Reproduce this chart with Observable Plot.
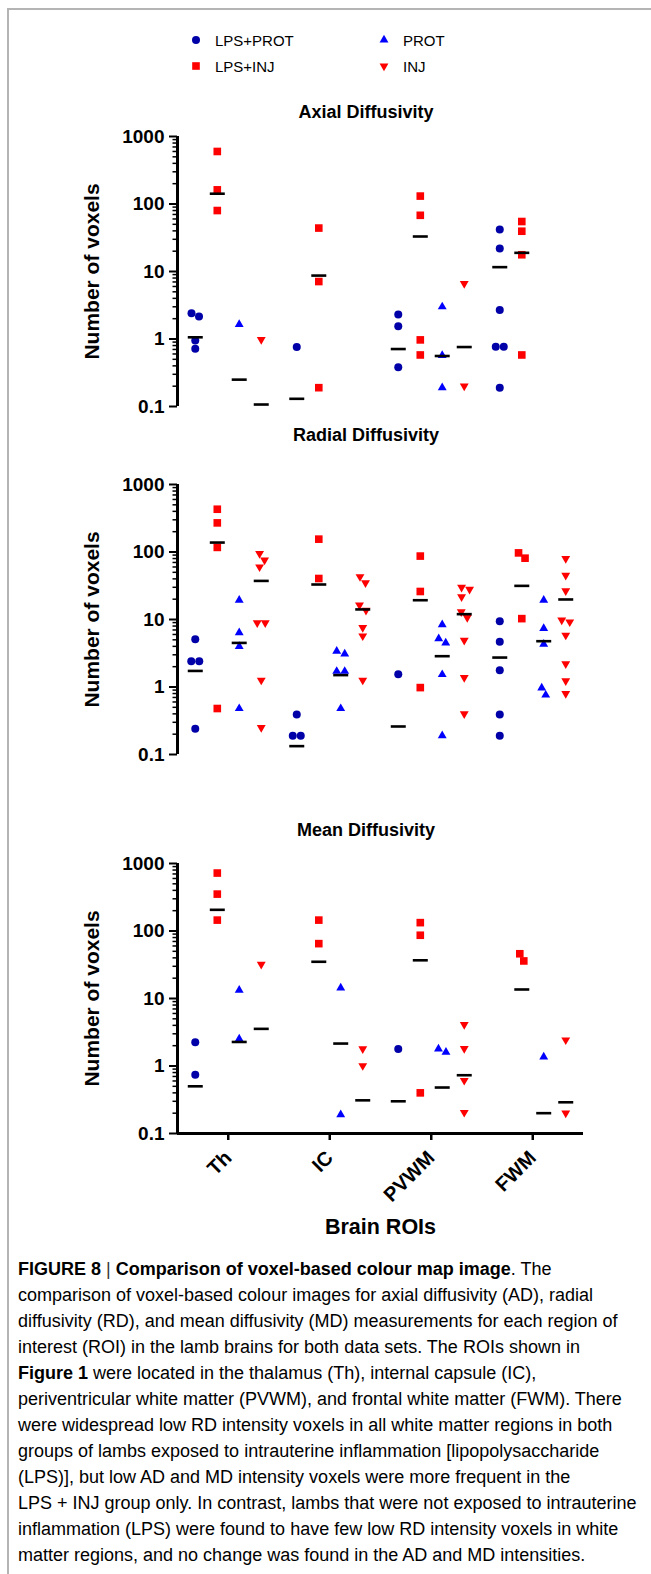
<!DOCTYPE html>
<html>
<head>
<meta charset="utf-8">
<script src="https://cdn.jsdelivr.net/npm/d3@7"></script>
<script src="https://cdn.jsdelivr.net/npm/@observablehq/plot@0.6"></script>
<style>
html { overflow: hidden; }
html, body { margin: 0; padding: 0; background: #fff; }
body { width: 651px; height: 1574px; position: relative; overflow: hidden;
  font-family: "Liberation Sans", Arial, Helvetica, sans-serif; color: #000; }
.fline { position: absolute; background: #b4b4b4; }
.panel { position: absolute; left: 0; }
.title { position: absolute; left: 166px; width: 400px; text-align: center; font-weight: bold;
  font-size: 18px; line-height: 20px; }
.leg { position: absolute; display: flex; align-items: center; font-size: 15px; height: 20px; white-space: nowrap; }
.leg svg { display: block; }
.leg span { margin-left: 12px; }
#caption { position: absolute; left: 18px; top: 1256px; font-size: 18px; line-height: 26px; white-space: nowrap; }
#caption .bar { font-weight: normal; color: #333; }
</style>
</head>
<body>
<div class="fline" style="left:7px;top:8px;width:644px;height:2px;"></div>
<div class="fline" style="left:7px;top:8px;width:2px;height:1566px;"></div>
<div id="legend"></div>
<div id="panels"></div>
<div id="caption"><b>FIGURE 8</b> <span class="bar">|</span> <b>Comparison of voxel-based colour map image</b>. The<br>comparison of voxel-based colour images for axial diffusivity (AD), radial<br>diffusivity (RD), and mean diffusivity (MD) measurements for each region of<br>interest (ROI) in the lamb brains for both data sets. The ROIs shown in<br><b>Figure 1</b> were located in the thalamus (Th), internal capsule (IC),<br>periventricular white matter (PVWM), and frontal white matter (FWM). There<br>were widespread low RD intensity voxels in all white matter regions in both<br>groups of lambs exposed to intrauterine inflammation [lipopolysaccharide<br>(LPS)], but low AD and MD intensity voxels were more frequent in the<br>LPS + INJ group only. In contrast, lambs that were not exposed to intrauterine<br>inflammation (LPS) were found to have few low RD intensity voxels in white<br>matter regions, and no change was found in the AD and MD intensities.</div>
<script>
// ---------------- DATA ----------------
const ROIS = ["Th", "IC", "PVWM", "FWM"];
const GROUPS = ["LPS+PROT", "LPS+INJ", "PROT", "INJ"];
const GROUP_COLORS = ["#0000a8", "#ff0000", "#0000ff", "#ff0000"];
const TITLES = ["Axial Diffusivity", "Radial Diffusivity", "Mean Diffusivity"];
const Y_TICKS = [0.1, 1, 10, 100, 1000];
const Y_LABEL = "Number of voxels";
const X_LABEL = "Brain ROIs";

// Axial diffusivity — values per ROI [Th, IC, PVWM, FWM]
const AD_LPS_PROT = [[2.4, 2.15, 0.95, 0.72], [0.76], [2.3, 1.55, 0.38], [42, 22, 2.7, 0.77, 0.77, 0.19]];
const AD_LPS_INJ  = [[600, 162, 80], [44, 7.1, 0.19], [131, 68, 0.97, 0.58], [55, 39.5, 17.7, 0.58]];
const AD_PROT     = [[1.64], [], [3.0, 0.57, 0.19], []];
const AD_INJ      = [[0.98], [], [6.6, 0.2], []];
const AD_MED_LPS_PROT = [1.06, 0.13, 0.71, 11.6];
const AD_MED_LPS_INJ  = [142, 8.7, 33, 18.9];
const AD_MED_PROT     = [0.25, null, 0.56, null];
const AD_MED_INJ      = [0.107, null, 0.76, null];

// Radial diffusivity
const RD_LPS_PROT = [[5.1, 2.4, 2.4, 0.24], [0.39, 0.19, 0.19], [1.55], [9.4, 4.7, 1.77, 0.39, 0.19]];
const RD_LPS_INJ  = [[430, 270, 117, 0.48], [155, 40.5], [87, 26, 0.98], [97, 81, 10.3]];
const RD_PROT     = [[19.3, 6.4, 4.0, 0.48], [3.4, 3.1, 1.71, 1.71, 0.48], [8.4, 5.2, 4.5, 1.53, 0.19], [19.3, 7.4, 4.3, 0.97, 0.76]];
const RD_INJ      = [[95, 76, 60, 8.9, 8.9, 1.26, 0.25], [43, 35, 16.3, 13.7, 7.6, 5.7, 1.26], [30, 28, 21.6, 13, 10.7, 4.9, 1.38, 0.4], [80, 45, 26.5, 9.8, 9.2, 5.85, 2.2, 1.23, 0.8]];
const RD_MED_LPS_PROT = [1.73, 0.133, 0.26, 2.73];
const RD_MED_LPS_INJ  = [138, 33, 19.3, 31.5];
const RD_MED_PROT     = [4.5, 1.5, 2.86, 4.77];
const RD_MED_INJ      = [37.3, 14.1, 12, 19.8];

// Mean diffusivity
const MD_LPS_PROT = [[2.25, 0.745], [], [1.79], []];
const MD_LPS_INJ  = [[722, 352, 145], [145, 65], [133, 86.5, 0.4], [46, 36]];
const MD_PROT     = [[13.3, 2.52], [14.4, 0.19], [1.79, 1.6], [1.36]];
const MD_INJ      = [[32], [1.79, 1.01], [4.1, 1.81, 0.61, 0.205], [2.43, 0.2]];
const MD_MED_LPS_PROT = [0.5, null, 0.3, null];
const MD_MED_LPS_INJ  = [206, 35, 36.8, 13.6];
const MD_MED_PROT     = [2.27, 2.15, 0.48, 0.2];
const MD_MED_INJ      = [3.55, 0.31, 0.73, 0.29];

// ---------------- LAYOUT / STYLE ----------------
const W = 651, ML = 177, MR = 68, PH = 270, MT = 12;
const PLOT_TOPS = [136, 484.3, 862.7];
const TITLE_Y = [112, 435, 830];
const GROUP_OFFSET = [-0.325, -0.108, 0.108, 0.325];
const MARK_D = 8;
const sqrt3 = Math.sqrt(3);
const triangleDown = {
  draw(context, size) {
    const y = -Math.sqrt(size / (sqrt3 * 3));
    context.moveTo(0, -y * 2);
    context.lineTo(-sqrt3 * y, y);
    context.lineTo(sqrt3 * y, y);
    context.closePath();
  }
};
const dash = { draw(context) { context.moveTo(-7.5, 0); context.lineTo(7.5, 0); } };
const SYMBOLS = [d3.symbolCircle, d3.symbolSquare, d3.symbolTriangle, triangleDown];
const RADII = [4, 4.3, 3.3, 3.3];
const MINOR = Y_TICKS.slice(0, -1).flatMap(t => d3.range(2, 10).map(k => +(t * k).toPrecision(2)));

const PANELS = [
  { groups: [AD_LPS_PROT, AD_LPS_INJ, AD_PROT, AD_INJ], medians: [AD_MED_LPS_PROT, AD_MED_LPS_INJ, AD_MED_PROT, AD_MED_INJ] },
  { groups: [RD_LPS_PROT, RD_LPS_INJ, RD_PROT, RD_INJ], medians: [RD_MED_LPS_PROT, RD_MED_LPS_INJ, RD_MED_PROT, RD_MED_INJ] },
  { groups: [MD_LPS_PROT, MD_LPS_INJ, MD_PROT, MD_INJ], medians: [MD_MED_LPS_PROT, MD_MED_LPS_INJ, MD_MED_PROT, MD_MED_INJ] }
];

// scatter-dot-plot style horizontal spreading of overlapping points
function dodge(vals) {
  const pxDec = PH / 4;
  const pts = vals.map(v => ({ v, py: -Math.log10(v) * pxDec, dx: 0 }));
  const order = pts.slice().sort((a, b) => a.py - b.py);
  const placed = [];
  for (const p of order) {
    let chosen = 0;
    outer: for (let s = 0; s <= 60; s++) {
      const cands = s === 0 ? [0] : [s * 0.5, -s * 0.5];
      for (const c of cands) {
        if (placed.every(q => (c - q.dx) ** 2 + (p.py - q.py) ** 2 >= MARK_D ** 2)) { chosen = c; break outer; }
      }
    }
    p.dx = chosen;
    placed.push(p);
  }
  let cluster = [];
  const flush = () => {
    if (cluster.length > 1) { const m = d3.mean(cluster, d => d.dx); cluster.forEach(d => d.dx -= m); }
    cluster = [];
  };
  for (const p of order) {
    if (cluster.length && p.py - cluster[cluster.length - 1].py >= MARK_D) flush();
    cluster.push(p);
  }
  flush();
  return pts;
}

// ---------------- LEGEND ----------------
const LEG_X = [196, 384], LEG_Y = [40, 66];
GROUPS.forEach((name, g) => {
  const col = g >> 1, row = g & 1;
  const item = d3.select("#legend").append("div").attr("class", "leg")
    .style("left", (LEG_X[col] - 7) + "px").style("top", (LEG_Y[row] - 10) + "px");
  const svg = item.append("svg").attr("width", 14).attr("height", 20);
  svg.append("path").attr("transform", "translate(7,10)")
    .attr("d", d3.symbol(SYMBOLS[g], Math.PI * RADII[g] ** 2)())
    .attr("fill", GROUP_COLORS[g]);
  item.append("span").text(name);
});

// ---------------- PANELS ----------------
const pxUnit = (W - ML - MR) / 4;
PANELS.forEach((panel, k) => {
  const last = k === PANELS.length - 1;
  const MB = last ? 118 : 12;
  const points = [];
  panel.groups.forEach((arr, g) => arr.forEach((vals, i) =>
    dodge(vals).forEach(p => points.push({ group: g, roi: i, value: p.v, x: i + GROUP_OFFSET[g] + p.dx / pxUnit }))));
  const meds = [];
  panel.medians.forEach((arr, g) => arr.forEach((v, i) => { if (v != null) meds.push({ group: g, roi: i, value: v, x: i + GROUP_OFFSET[g] }); }));

  const marks = [
    Plot.ruleX([-0.5], { y1: 0.1, y2: 1000, stroke: "black", strokeWidth: 3 }),
    Plot.axisY({ ticks: MINOR, tickSize: 4.5, tickFormat: () => "", strokeWidth: 1.5, label: null }),
    Plot.axisY({ ticks: Y_TICKS, tickSize: 8, tickPadding: 5, tickFormat: d => String(d), fontSize: 19, fontWeight: "bold", strokeWidth: 2, label: null }),
    ...GROUPS.map((name, g) => Plot.dot(points.filter(d => d.group === g),
      { x: "x", y: "value", symbol: SYMBOLS[g], r: RADII[g], fill: GROUP_COLORS[g], stroke: "none" })),
    Plot.dot(meds, { x: "x", y: "value", symbol: dash, r: 4, stroke: "black", strokeWidth: 2.6, fill: "none" }),
    Plot.text([Y_LABEL], { text: d => d, frameAnchor: "left", dx: -85, rotate: -90, textAnchor: "middle", lineAnchor: "middle", fontSize: 21, fontWeight: "bold" })
  ];
  if (last) {
    marks.push(
      Plot.ruleY([0.1], { x1: -0.5, x2: 3.5, stroke: "black", strokeWidth: 3 }),
      Plot.axisX({ ticks: [0, 1, 2, 3], tickFormat: i => ROIS[i], tickSize: 7, tickPadding: 14, tickRotate: -45,
        fontSize: 20, fontWeight: "bold", strokeWidth: 2.5, label: null }),
      Plot.text([X_LABEL], { text: d => d, frameAnchor: "bottom", dy: 94, lineAnchor: "middle", fontSize: 21.5, fontWeight: "bold" })
    );
  }
  const chart = Plot.plot({
    width: W, height: MT + PH + MB,
    marginLeft: ML, marginRight: MR, marginTop: MT, marginBottom: MB,
    x: last ? { domain: [-0.5, 3.5] } : { domain: [-0.5, 3.5], axis: null },
    y: { type: "log", domain: [0.1, 1000] },
    style: { fontFamily: "'Liberation Sans', Arial, sans-serif", overflow: "visible", background: "transparent", color: "black" },
    marks
  });
  const wrap = d3.select("#panels").append("div").attr("class", "panel").style("top", (PLOT_TOPS[k] - MT) + "px");
  wrap.node().appendChild(chart);
  d3.select("body").append("div").attr("class", "title").style("top", (TITLE_Y[k] - 10) + "px").text(TITLES[k]);
});
</script>
</body>
</html>
